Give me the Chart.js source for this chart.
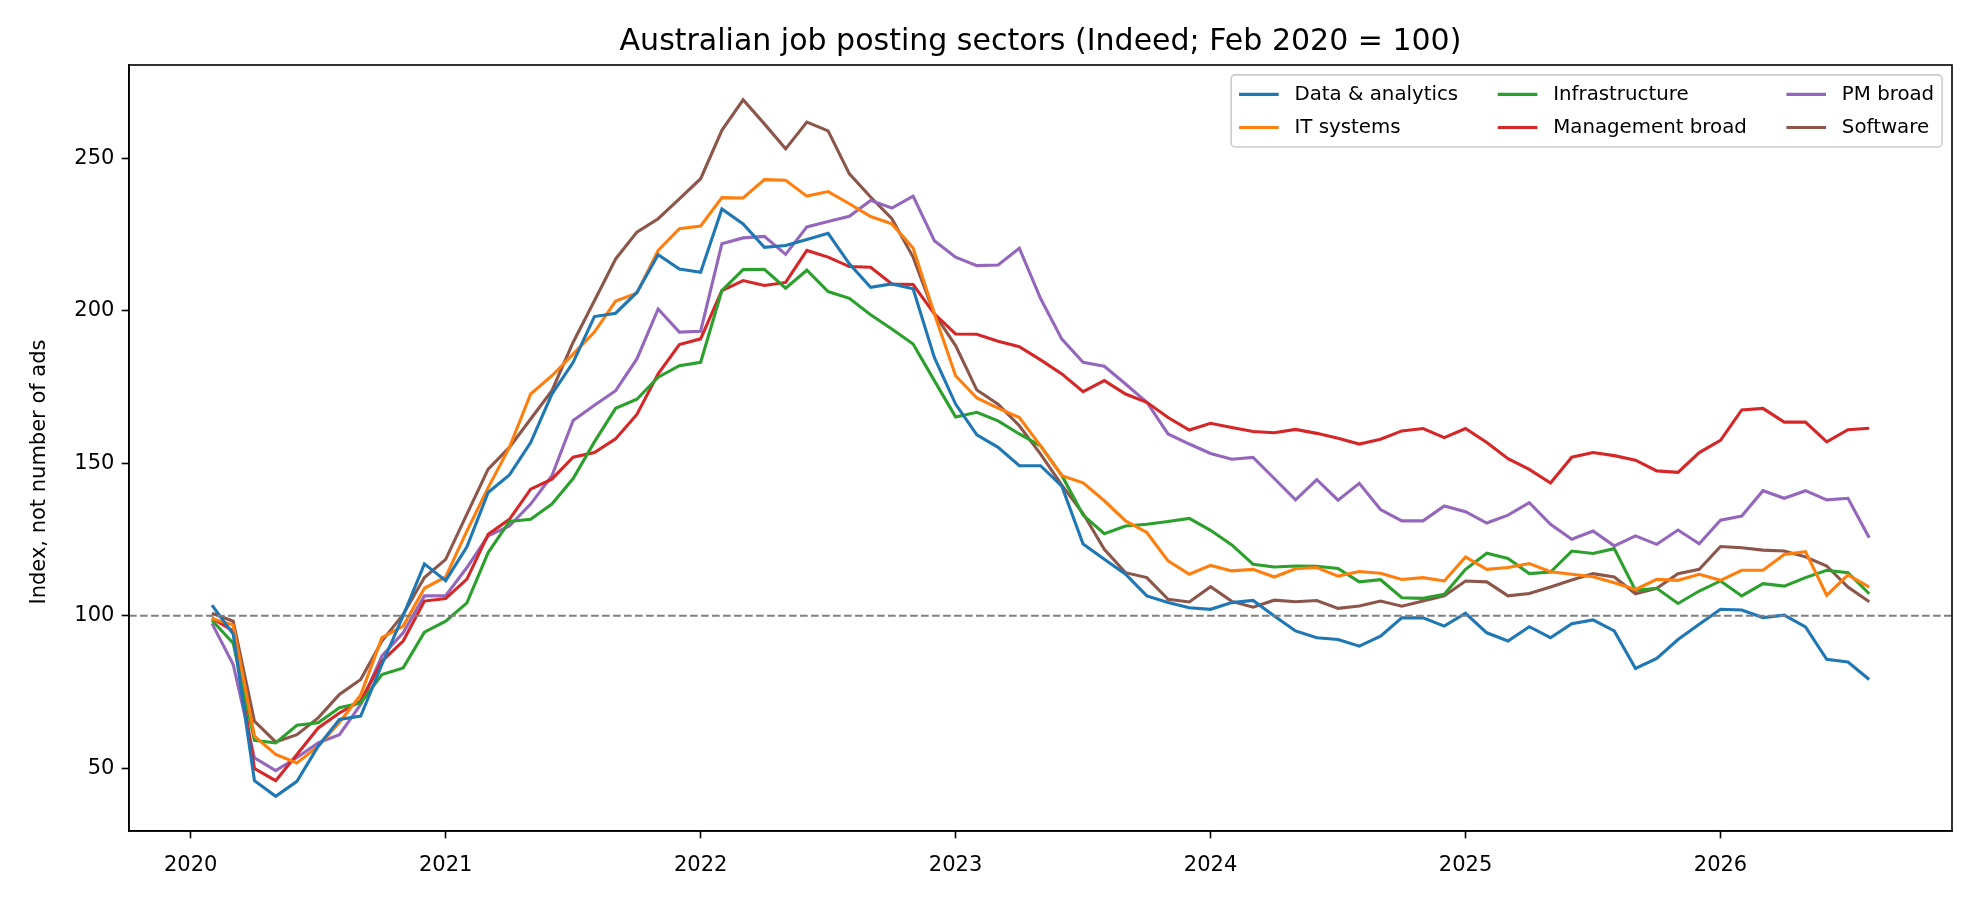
<!DOCTYPE html>
<html>
<head>
<meta charset="utf-8">
<title>Australian job posting sectors</title>
<script src="https://cdn.jsdelivr.net/npm/chart.js@4.4.1/dist/chart.umd.min.js"></script>
<style>
    html, body { margin: 0; padding: 0; background: #ffffff; }
    #wrap { width: 1980px; height: 900px; }
</style>
</head>
<body>
<div id="wrap"><canvas id="sectorChart" width="1980" height="900"></canvas></div>
<script>
// Monthly series, Feb 2020 .. Aug 2026 (Feb 2020 = 100)
const firstYear = 2020;
const firstMonth = 2;

const dataAnalytics = [103.5, 94, 45.9, 40.8, 45.7, 57.2, 66, 67.1, 84, 100,
    117, 111.5, 122.6, 140.4, 146.2, 156.8, 172.7, 183.1, 198.1, 199.2,
    206, 218.4, 213.7, 212.6, 233.4, 228.5, 220.8, 221.4, 223.4, 225.4,
    215.4, 207.7, 208.8, 207.2, 184.7, 169.4, 159.3, 155.2, 149.2, 149.2,
    142.5, 123.5, 118.5, 113.6, 106.5, 104.3, 102.6, 102.1, 104.3, 105,
    99.9, 95, 92.8, 92.2, 90, 93.3, 99.3, 99.3, 96.6, 100.8,
    94.4, 91.7, 96.4, 92.8, 97.4, 98.6, 95, 82.7, 86, 92.2,
    97.2, 102.1, 101.9, 99.4, 100.2, 96.3, 85.7, 84.8, 79.1];

const itSystems = [99, 97, 60.5, 54.5, 51.7, 57.2, 65, 74, 92.8, 96.6,
    109, 112.7, 127.8, 142, 155.2, 172.7, 178.7, 185.8, 193, 203.2,
    205.8, 219.8, 226.9, 227.8, 237.1, 237, 243, 242.8, 237.6, 239.1,
    235.1, 230.9, 228.5, 220.6, 199, 178.7, 171.4, 168.1, 165, 155.7,
    145.9, 143.6, 137.7, 131.1, 127.3, 118, 113.6, 116.5, 114.7, 115.2,
    112.7, 115.4, 115.8, 113, 114.5, 113.9, 111.9, 112.5, 111.4, 119.3,
    115.2, 115.8, 117.1, 114.4, 113.6, 112.8, 110.8, 108.6, 111.9, 111.6,
    113.6, 111.6, 114.9, 114.9, 120.1, 121, 106.7, 113.4, 109.4];

const infrastructure = [98.5, 91, 59.1, 58.3, 64.1, 64.9, 69.8, 71.4, 80.7, 82.9,
    94.6, 98.2, 104.2, 120.7, 130.9, 131.6, 136.6, 145, 157, 168,
    171, 178.2, 182, 183.1, 206.6, 213.5, 213.6, 207.4, 213.3, 206.3,
    204.1, 198.7, 194, 189.1, 177.1, 165.2, 166.7, 163.9, 159.6, 155.7,
    146, 133, 126.9, 129.4, 130, 130.9, 131.9, 128, 123.2, 116.9,
    116, 116.3, 116.2, 115.5, 111.1, 111.8, 105.9, 105.7, 107, 115.2,
    120.5, 118.8, 113.8, 114.3, 121.2, 120.4, 122, 108.3, 109, 104,
    108.1, 111.4, 106.5, 110.5, 109.7, 112.5, 114.9, 114.1, 107.2];

const managementBroad = [99.2, 95, 49.9, 45.9, 54.5, 63.2, 68.1, 72, 85.1, 91.7,
    104.8, 105.6, 112, 126.7, 131.6, 141.5, 144.8, 152, 153.5, 158,
    166, 179.3, 188.9, 190.8, 206.6, 209.9, 208.3, 209.3, 219.8, 217.6,
    214.5, 214.3, 208.8, 208.6, 199, 192.4, 192.3, 190, 188.2, 183.9,
    179.3, 173.5, 177.1, 172.7, 170, 165, 160.9, 163.1, 161.7, 160.4,
    160, 161.1, 159.8, 158.2, 156.3, 157.9, 160.6, 161.4, 158.4, 161.4,
    156.8, 151.5, 148, 143.5, 152, 153.5, 152.5, 151, 147.5, 147,
    153.5, 157.5, 167.5, 168, 163.5, 163.5, 157, 161, 161.5];

const pmBroad = [97.5, 84, 53.4, 49.2, 53.5, 58.3, 61, 70.9, 86.8, 94.4,
    106.5, 106.6, 115.8, 126.2, 129.4, 136.6, 145.9, 164, 169, 173.8,
    184.2, 200.6, 193, 193.3, 222, 223.9, 224.4, 218.5, 227.5, 229.3,
    231, 236.2, 233.7, 237.6, 223, 217.6, 214.8, 215, 220.5, 204,
    190.7, 183.1, 181.8, 176, 170, 159.6, 156.3, 153.2, 151.3, 151.9,
    145, 138, 144.6, 137.9, 143.4, 134.8, 131.1, 131.1, 136, 134.1,
    130.4, 133, 137.1, 130, 125.1, 127.8, 122.9, 126.2, 123.4, 128.1,
    123.6, 131.3, 132.7, 141, 138.5, 141, 138, 138.5, 125.6];

const software = [100.8, 98.2, 65.4, 58.6, 61, 66.5, 74.2, 79.1, 91.7, 100.4,
    112.5, 118.5, 133.3, 148.1, 155.2, 164.5, 173.8, 189.7, 203.3, 217,
    225.8, 230.2, 236.7, 243.3, 259.2, 269.2, 261.3, 253.1, 261.9, 259,
    244.9, 237.3, 230.2, 217.6, 199, 188.6, 174, 169.4, 162.3, 153,
    142.8, 133.5, 121.8, 114.1, 112.5, 105.4, 104.5, 109.5, 104.7, 102.8,
    105.1, 104.6, 105, 102.4, 103.2, 104.8, 103.1, 104.8, 106.5, 111.4,
    111.1, 106.5, 107.3, 109.4, 111.7, 113.8, 112.7, 107.2, 109, 113.8,
    115.2, 122.7, 122.3, 121.5, 121.2, 119.3, 116.3, 109.4, 104.6];

const seriesLabels = ["Data & analytics", "IT systems", "Infrastructure",
    "Management broad", "PM broad", "Software"];
const seriesValues = [dataAnalytics, itSystems, infrastructure,
    managementBroad, pmBroad, software];
const seriesColors = ["#1f77b4", "#ff7f0e", "#2ca02c", "#d62728", "#9467bd", "#8c564b"];

const yearTicks = [2020, 2021, 2022, 2023, 2024, 2025, 2026];
const indexTicks = [50, 100, 150, 200, 250];
const baseline = 100;

const chartTitle = "Australian job posting sectors (Indeed; Feb 2020 = 100)";
const yAxisTitle = "Index, not number of ads";

// x position of each month as a fractional year
const monthPos = dataAnalytics.map((_, i) => firstYear + (firstMonth - 1 + i) / 12);

const FONT = "'DejaVu Sans', 'Liberation Sans', sans-serif";

// Dashed reference line at Feb 2020 = 100
const baselineLine = {
    id: "baselineLine",
    afterDatasetsDraw(chart) {
        const { ctx, chartArea } = chart;
        const y = chart.scales.y.getPixelForValue(baseline);
        ctx.save();
        ctx.strokeStyle = "#808080";
        ctx.lineWidth = 2;
        ctx.setLineDash([7.7, 3.3]);
        ctx.beginPath();
        ctx.moveTo(chartArea.left, y);
        ctx.lineTo(chartArea.right, y);
        ctx.stroke();
        ctx.restore();
    }
};

// Box the plot area on all four sides, then put the titles on
// (centred on the plot area rather than the whole canvas)
const axesFrame = {
    id: "axesFrame",
    afterDraw(chart) {
        const { ctx, chartArea: a } = chart;
        ctx.save();
        ctx.strokeStyle = "#000000";
        ctx.lineWidth = 1.6;
        ctx.strokeRect(a.left, a.top, a.right - a.left, a.bottom - a.top);

        ctx.fillStyle = "#000000";
        ctx.textAlign = "center";
        ctx.textBaseline = "middle";
        ctx.font = "30px " + FONT;
        ctx.fillText(chartTitle, (a.left + a.right) / 2, 42);

        ctx.font = "21px " + FONT;
        ctx.translate(40, (a.top + a.bottom) / 2 + 24);
        ctx.rotate(-Math.PI / 2);
        ctx.fillText(yAxisTitle, 0, 0);
        ctx.restore();
    }
};

// Three-column legend in the upper right corner, filled column by column
const legendBox = {
    id: "legendBox",
    afterDraw(chart) {
        const { ctx, chartArea: a } = chart;
        const fs = 19.8;
        const rows = 2;
        const handleLen = 2 * fs;
        const textPad = 0.8 * fs;
        const colGap = 2 * fs;
        const border = 0.4 * fs;
        const rowH = 1.17 * fs;
        const rowGap = 0.5 * fs;

        ctx.save();
        ctx.font = fs + "px " + FONT;
        const sets = chart.data.datasets;
        const cols = Math.ceil(sets.length / rows);
        const colWidths = [];
        for (let c = 0; c < cols; c++) {
            let w = 0;
            for (let r = 0; r < rows; r++) {
                const ds = sets[c * rows + r];
                if (ds) w = Math.max(w, ctx.measureText(ds.label).width);
            }
            colWidths.push(handleLen + textPad + w);
        }
        const boxW = 2 * border + colWidths.reduce((s, w) => s + w, 0) + colGap * (cols - 1);
        const boxH = 2 * border + rows * rowH + (rows - 1) * rowGap;
        const boxX = a.right - 0.5 * fs - boxW;
        const boxY = a.top + 0.5 * fs;

        ctx.beginPath();
        ctx.roundRect(boxX, boxY, boxW, boxH, 4);
        ctx.fillStyle = "rgba(255,255,255,0.8)";
        ctx.fill();
        ctx.strokeStyle = "#cccccc";
        ctx.lineWidth = 1.6;
        ctx.stroke();

        let x = boxX + border;
        for (let c = 0; c < cols; c++) {
            for (let r = 0; r < rows; r++) {
                const ds = sets[c * rows + r];
                if (!ds) continue;
                const cy = boxY + border + r * (rowH + rowGap) + rowH / 2;
                ctx.strokeStyle = ds.borderColor;
                ctx.lineWidth = 3.1;
                ctx.beginPath();
                ctx.moveTo(x, cy);
                ctx.lineTo(x + handleLen, cy);
                ctx.stroke();
                ctx.fillStyle = "#000000";
                ctx.textBaseline = "middle";
                ctx.textAlign = "left";
                ctx.fillText(ds.label, x + handleLen + textPad, cy);
            }
            x += colWidths[c] + colGap;
        }
        ctx.restore();
    }
};

const tickFont = { family: FONT, size: 21 };

const ctx = document.getElementById("sectorChart").getContext("2d");

new Chart(ctx, {
    type: "line",
    data: {
        datasets: seriesLabels.map((label, k) => ({
            label: label,
            data: seriesValues[k].map((v, i) => ({ x: monthPos[i], y: v })),
            borderColor: seriesColors[k],
            backgroundColor: seriesColors[k],
            borderWidth: 3.1,
            pointRadius: 0,
            tension: 0,
            fill: false
        }))
    },
    options: {
        responsive: false,
        animation: false,
        devicePixelRatio: 1,
        layout: { padding: { left: 0, right: 28, top: 65, bottom: 0 } },
        plugins: {
            legend: { display: false },
            tooltip: { enabled: false },
            title: { display: false }
        },
        scales: {
            x: {
                type: "linear",
                min: 2019.758,
                max: 2026.908,
                afterBuildTicks: scale => { scale.ticks = yearTicks.map(v => ({ value: v })); },
                afterFit: scale => { scale.height = 69; },
                ticks: {
                    callback: v => String(v),
                    color: "#000000",
                    font: tickFont,
                    padding: 15,
                    maxRotation: 0,
                    autoSkip: false
                },
                grid: {
                    drawOnChartArea: false,
                    drawTicks: true,
                    tickLength: 7.3,
                    tickWidth: 1.6,
                    tickColor: "#000000"
                },
                border: { display: true, color: "#000000", width: 1.6 }
            },
            y: {
                min: 29.4,
                max: 280.6,
                afterBuildTicks: scale => { scale.ticks = indexTicks.map(v => ({ value: v })); },
                afterFit: scale => { scale.width = 129; },
                ticks: {
                    color: "#000000",
                    font: tickFont,
                    padding: 7.3
                },
                grid: {
                    drawOnChartArea: false,
                    drawTicks: true,
                    tickLength: 7.3,
                    tickWidth: 1.6,
                    tickColor: "#000000"
                },
                border: { display: true, color: "#000000", width: 1.6 }
            }
        }
    },
    plugins: [baselineLine, axesFrame, legendBox]
});
</script>
</body>
</html>
